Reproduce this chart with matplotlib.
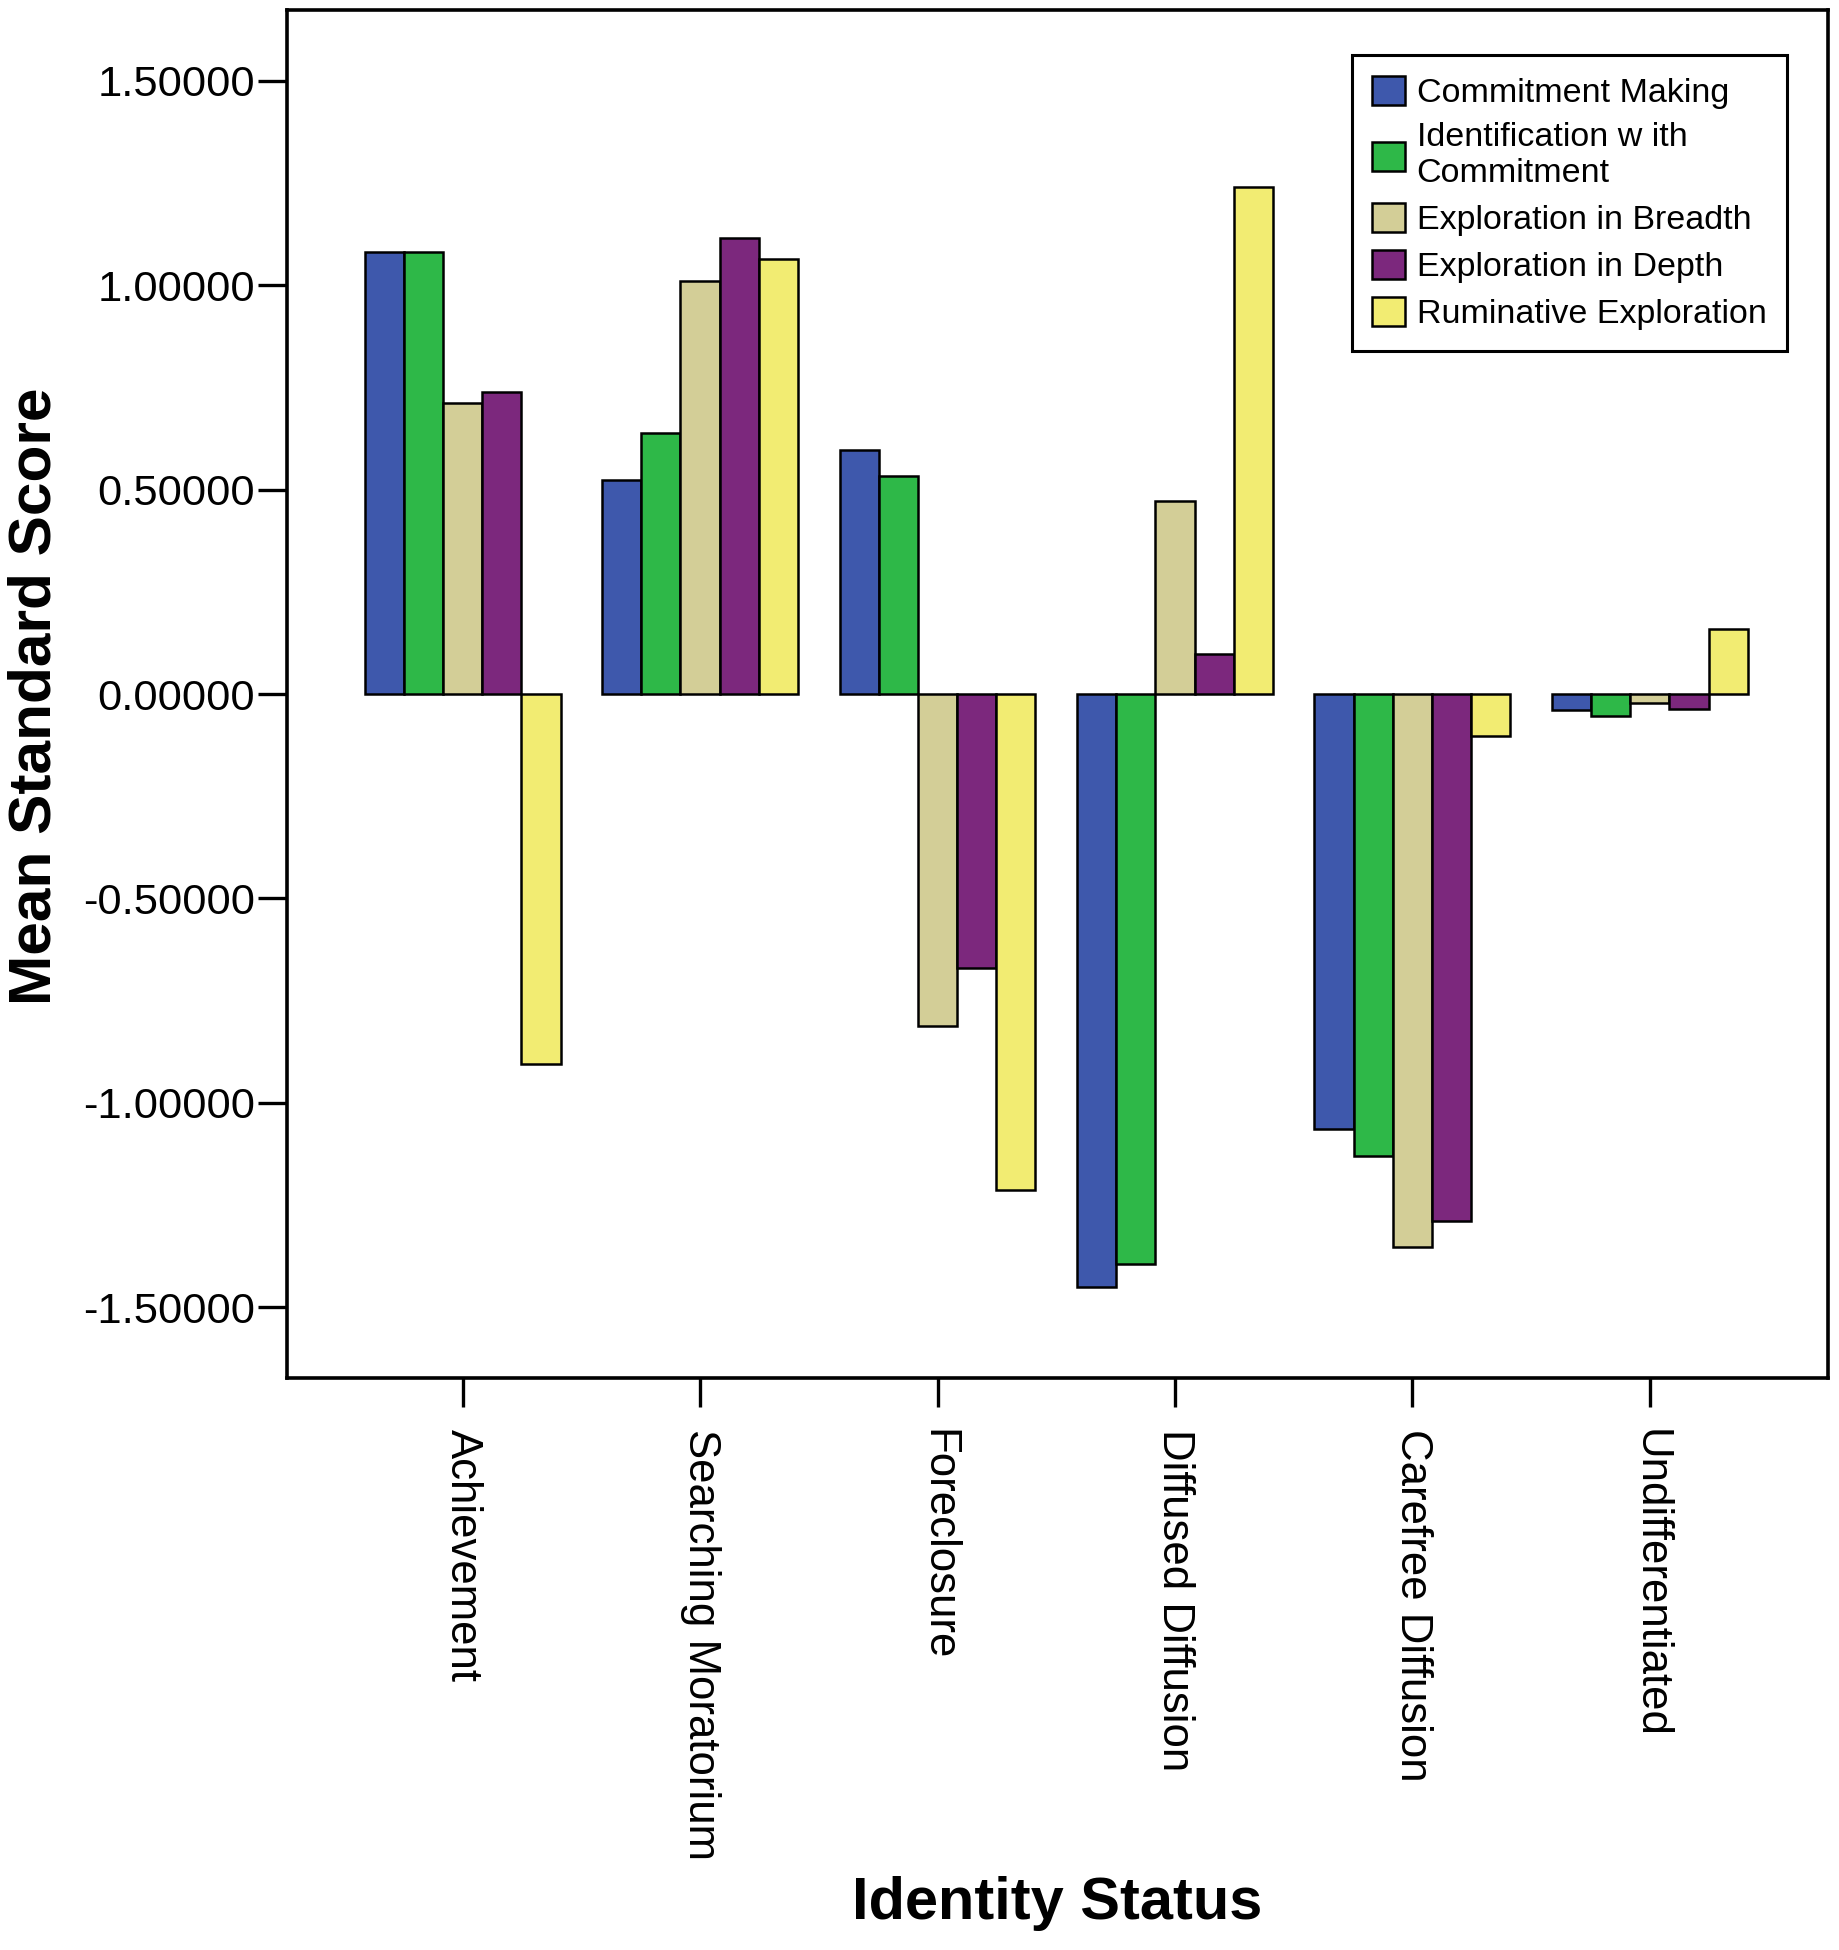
import matplotlib
matplotlib.use("Agg")
import matplotlib.pyplot as plt
import numpy as np

plt.rcParams['font.family'] = ['Liberation Sans', 'DejaVu Sans']

# identity status groups and the five dimension scores
statuses = ["Achievement", "Searching Moratorium", "Foreclosure",
            "Diffused Diffusion", "Carefree Diffusion", "Undifferentiated"]
series_names = ["Commitment Making", "Identification w ith\nCommitment",
                "Exploration in Breadth", "Exploration in Depth",
                "Ruminative Exploration"]
commitment_making = [1.082, 0.523, 0.596, -1.450, -1.064, -0.039]
identification = [1.082, 0.638, 0.532, -1.395, -1.131, -0.053]
expl_breadth = [0.711, 1.009, -0.812, 0.471, -1.353, -0.022]
expl_depth = [0.739, 1.116, -0.669, 0.097, -1.289, -0.036]
ruminative = [-0.906, 1.064, -1.213, 1.240, -0.103, 0.158]
yticks = [-1.5, -1.0, -0.5, 0.0, 0.5, 1.0, 1.5]

colors = ["#3E58AC", "#2EB848", "#D3CE97", "#7C287D", "#F2EC72"]
series = [commitment_making, identification, expl_breadth, expl_depth, ruminative]

fig = plt.figure(figsize=(18.39, 19.5), dpi=100)
ax = fig.add_axes([0.156, 0.2933, 0.838, 0.7016])

x = np.arange(len(statuses))
w = 0.165
for i, (vals, c, name) in enumerate(zip(series, colors, series_names)):
    ax.bar(x + (i - 2) * w, vals, width=w, color=c, edgecolor="black",
           linewidth=1.8, label=name)

ax.set_xlim(-0.74, 5.75)
ax.set_ylim(-1.673, 1.673)
ax.set_yticks(yticks)
ax.set_yticklabels(["%.5f" % v for v in yticks], fontsize=31.3)
ax.set_xticks(x)
ax.set_xticklabels(statuses, rotation=-90, fontsize=31.5, va="top", ha="center")

for s in ax.spines.values():
    s.set_linewidth(2.6)
ax.tick_params(axis="both", length=21, width=2.4, direction="out")
ax.tick_params(axis="x", pad=16)
ax.tick_params(axis="y", pad=2)

fig.text(0.019, 0.643, "Mean Standard Score", rotation=90, fontsize=43.5,
         fontweight="bold", ha="center", va="center")
fig.text(0.575, 0.024, "Identity Status", fontsize=42.8, fontweight="bold",
         ha="center", va="center")

leg = ax.legend(loc="upper right", bbox_to_anchor=(0.9734, 0.967), fontsize=24.5,
                fancybox=False, frameon=True, framealpha=1, edgecolor="black",
                handlelength=0.95, handleheight=0.95, handletextpad=0.35,
                labelspacing=0.4, borderpad=0.6, borderaxespad=0)
leg.get_frame().set_linewidth(2.2)

fig.savefig("out.png", dpi=100)
